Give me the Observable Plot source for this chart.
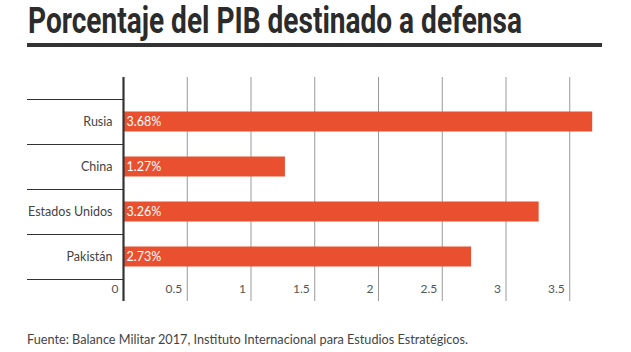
<!DOCTYPE html>
<html>
<head>
<meta charset="utf-8">
<script src="https://cdn.jsdelivr.net/npm/d3@7"></script>
<script src="https://cdn.jsdelivr.net/npm/@observablehq/plot@0.6"></script>
<style>
  html, body { margin: 0; padding: 0; background: #fff; }
  #wrap { position: relative; width: 631px; height: 352px; overflow: hidden; }
  #title {
    position: absolute; left: 28px; top: 1px;
    font-family: Roboto, "Noto Sans", sans-serif;
    font-weight: bold; font-size: 36px; line-height: 40px; color: #2b2b2b;
    white-space: nowrap; transform-origin: 0 0;
  }
  #rule { position: absolute; left: 27px; top: 43px; width: 575px; height: 4px; background: #333; }
  #chart { position: absolute; left: 0; top: 50px; }
  #foot {
    position: absolute; left: 27px; top: 331px;
    font-family: Lato, sans-serif; font-size: 12.7px; color: #444; white-space: nowrap;
  }
</style>
</head>
<body>
<div id="wrap">
  <div id="title">Porcentaje del PIB destinado a defensa</div>
  <div id="rule"></div>
  <div id="chart"></div>
  <div id="foot">Fuente: Balance Militar 2017, Instituto Internacional para Estudios Estratégicos.</div>
</div>
<script>
const countries = ["Rusia", "China", "Estados Unidos", "Pakistán"];
const values = [3.68, 1.27, 3.26, 2.73];
const valueLabels = ["3.68%", "1.27%", "3.26%", "2.73%"];
const xTicks = [0, 0.5, 1, 1.5, 2, 2.5, 3, 3.5];
const xTickLabels = ["0", "0.5", "1", "1.5", "2", "2.5", "3", "3.5"];

const data = countries.map((c, i) => ({country: c, value: values[i], label: valueLabels[i]}));
const ticks = xTicks.map((t, i) => ({t, label: xTickLabels[i]}));
const lastCountry = [countries[countries.length - 1]];

const chart = Plot.plot({
  width: 631,
  height: 260,
  marginTop: 27,
  marginBottom: 9,
  marginLeft: 123,
  marginRight: 23.5,
  style: {fontFamily: "Lato, sans-serif", background: "transparent"},
  x: {domain: [0, 3.8], axis: null},
  y: {domain: countries, axis: null, padding: 0, insetTop: 22, insetBottom: 22},
  marks: [
    Plot.ruleX(xTicks.slice(1), {stroke: "#999", strokeWidth: 1}),
    Plot.barX(data, {x: "value", y: "country", fill: "#e8502f", insetTop: 12.5, insetBottom: 12.5}),
    Plot.ruleY(countries, {y: d => d, x1: 0, x2: 0, insetLeft: -96, dy: -22.5, stroke: "#333", strokeWidth: 1.2}),
    Plot.ruleY(lastCountry, {y: d => d, x1: 0, x2: 0, insetLeft: -96, dy: 22.5, stroke: "#333", strokeWidth: 1.2}),
    Plot.ruleX([0], {stroke: "#333", strokeWidth: 2.2}),
    Plot.text(data, {x: 0, y: "country", text: "country", textAnchor: "end", dx: -11, fill: "#444", fontSize: 12.5}),
    Plot.text(data, {x: 0, y: "country", text: "label", textAnchor: "start", dx: 3, fill: "#fff", fontSize: 12.5}),
    Plot.text(ticks, {x: "t", text: "label", frameAnchor: "bottom", textAnchor: "end", dx: -5, dy: -9, fill: "#555", fontSize: 12})
  ]
});
document.getElementById("chart").appendChild(chart);

// squeeze the title horizontally to the condensed width of the original
const title = document.getElementById("title");
const w = title.getBoundingClientRect().width;
const targetW = 494;
title.style.transform = `scaleX(${targetW / w})`;
</script>
</body>
</html>
